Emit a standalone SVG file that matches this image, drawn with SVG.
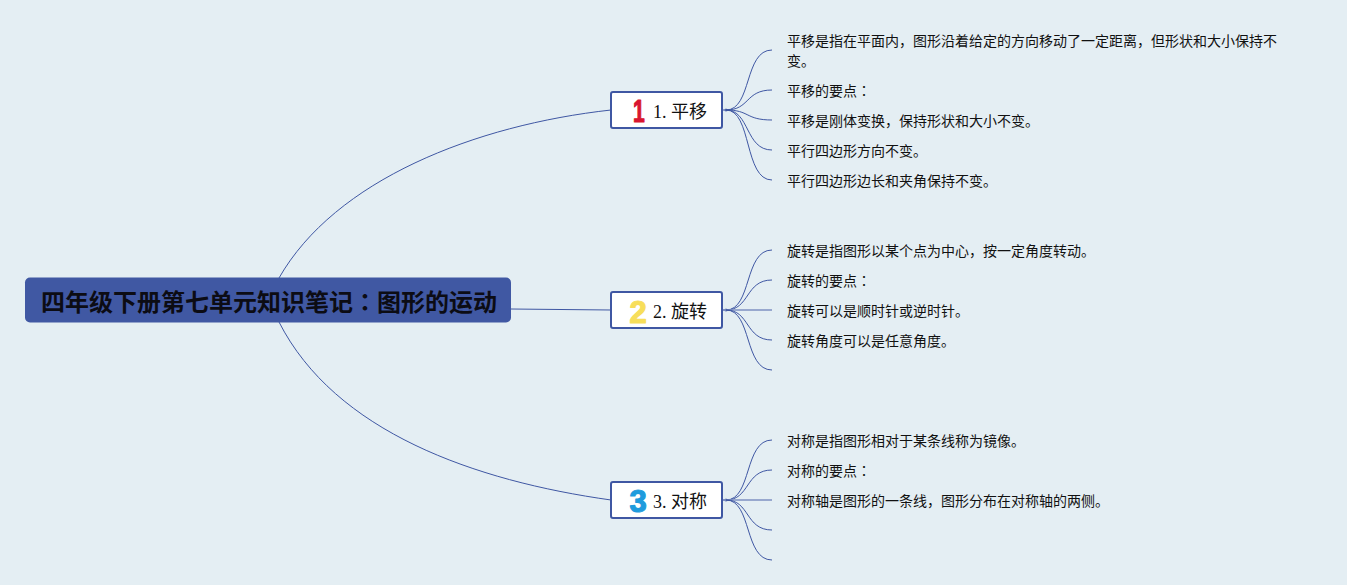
<svg xmlns="http://www.w3.org/2000/svg" width="1347" height="585" viewBox="0 0 1347 585">
<style>
.c{fill:none;stroke:#3f57a3;stroke-width:1}
.h{fill:none;stroke:#7f90c2;stroke-width:1.5}
.b{fill:#fff;stroke:#3f57a3;stroke-width:2}
.l{font:14px "Noto Sans CJK SC","Noto Sans",sans-serif;fill:#111}
.n{font:18px "Liberation Serif","Noto Sans CJK SC",serif;fill:#111}
.i{font:bold 31px "Liberation Sans","Noto Sans",sans-serif;stroke-width:1.2;stroke-linejoin:round}
.t{font:bold 24px "Noto Sans CJK SC",sans-serif;fill:#0c0c14}
.k{font-family:"Noto Sans CJK TC",sans-serif}
</style>
<rect width="1347" height="585" fill="#e4eef3"/>
<g id="connectors">
<path class="c" d="M279 278C335 180 475 125 611 110"/>
<path class="c" d="M511 309L611 310"/>
<path class="c" d="M279 322C335 432 475 481 611 500"/>
<circle cx="726" cy="110" r="1.500" fill="#6a7db8"/>
<circle cx="726" cy="310" r="1.500" fill="#6a7db8"/>
<circle cx="726" cy="500" r="1.500" fill="#6a7db8"/>
<path class="c" d="M722 110H726C752 110 744 50 772 50"/>
<path class="c" d="M726 110C750 110 745 90 772 90"/>
<path class="c" d="M726 110C750 110 745 120 772 120"/>
<path class="c" d="M726 110C750 110 745 150 772 150"/>
<path class="c" d="M726 110C752 110 744 180 772 180"/>
<path class="c" d="M722 310H726C752 310 744 250 772 250"/>
<path class="c" d="M726 310C750 310 745 280 772 280"/>
<path class="h" d="M722 310H772"/>
<path class="c" d="M726 310C750 310 745 340 772 340"/>
<path class="c" d="M726 310C752 310 744 370 772 370"/>
<path class="c" d="M722 500H726C752 500 744 440 772 440"/>
<path class="c" d="M726 500C750 500 745 470 772 470"/>
<path class="h" d="M722 500H772"/>
<path class="c" d="M726 500C750 500 745 530 772 530"/>
<path class="c" d="M726 500C752 500 744 560 772 560"/>
</g>
<g id="root">
<rect x="25" y="277.500" width="486" height="45" rx="5" fill="#4058a3"/>
<text class="t" x="41" y="311">四年级下册第七单元知识笔记<tspan class="k">：</tspan>图形的运动</text>
</g>
<g id="node1">
<rect class="b" x="611" y="92" width="111" height="36" rx="2"/>
<text class="i" transform="translate(633 122) scale(.68 1)" fill="#d9152f" stroke="#d9152f">1</text>
<text class="n" x="653" y="118">1. 平移</text>
</g>
<g id="node2">
<rect class="b" x="611" y="292" width="111" height="36" rx="2"/>
<text class="i" x="629.500" y="322.500" fill="#f7de5a" stroke="#f7de5a">2</text>
<text class="n" x="653" y="318">2. 旋转</text>
</g>
<g id="node3">
<rect class="b" x="611" y="482" width="111" height="36" rx="2"/>
<text class="i" x="629.500" y="511.500" fill="#1f9bdd" stroke="#1f9bdd">3</text>
<text class="n" x="653" y="508">3. 对称</text>
</g>
<g id="leaves">
<text class="l" x="787" y="46">平移是指在平面内，图形沿着给定的方向移动了一定距离，但形状和大小保持不</text>
<text class="l" x="787" y="66">变。</text>
<text class="l" x="787" y="96">平移的要点<tspan class="k">：</tspan></text>
<text class="l" x="787" y="126">平移是刚体变换，保持形状和大小不变。</text>
<text class="l" x="787" y="156">平行四边形方向不变。</text>
<text class="l" x="787" y="186">平行四边形边长和夹角保持不变。</text>
<text class="l" x="787" y="256">旋转是指图形以某个点为中心，按一定角度转动。</text>
<text class="l" x="787" y="286">旋转的要点<tspan class="k">：</tspan></text>
<text class="l" x="787" y="316">旋转可以是顺时针或逆时针。</text>
<text class="l" x="787" y="346">旋转角度可以是任意角度。</text>
<text class="l" x="787" y="446">对称是指图形相对于某条线称为镜像。</text>
<text class="l" x="787" y="476">对称的要点<tspan class="k">：</tspan></text>
<text class="l" x="787" y="506">对称轴是图形的一条线，图形分布在对称轴的两侧。</text>
</g>
</svg>
